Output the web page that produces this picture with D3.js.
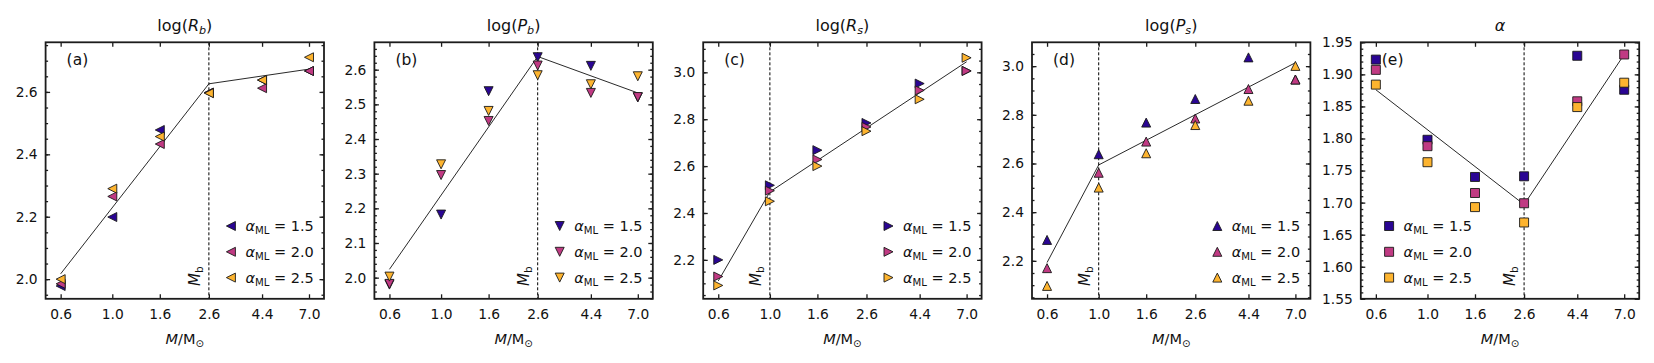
<!DOCTYPE html>
<html><head><meta charset="utf-8">
<script src="https://cdn.jsdelivr.net/npm/d3@7"></script>
<style>
body{margin:0;background:#fff}
text{font-family:"DejaVu Sans",sans-serif;fill:#111}
</style>
</head><body>
<svg id="chart" width="1654" height="363"></svg>
<script>
// ---------------- data ----------------
const masses = [0.6, 1.0, 1.6, 2.6, 4.4, 7.0];
const massTickLabels = ["0.6", "1.0", "1.6", "2.6", "4.4", "7.0"];
const alphaMLLabels = ["1.5", "2.0", "2.5"];
const seriesColors = ["#2a0593", "#c03a83", "#fdb42f"];

// (a) log(R_b)
const logRb_15 = [1.978, 2.199, 2.478, 2.598, 2.638, 2.667];
const logRb_20 = [1.985, 2.265, 2.433, 2.597, 2.612, 2.667];
const logRb_25 = [2.000, 2.290, 2.457, 2.596, 2.638, 2.711];
const logRb_fitX = [0.6, 2.6, 7.0];
const logRb_fitY = [2.017, 2.626, 2.673];
const logRb_ticks = [2.0, 2.2, 2.4, 2.6];

// (b) log(P_b)
const logPb_15 = [1.980, 2.182, 2.538, 2.636, 2.611, 2.520];
const logPb_20 = [1.982, 2.296, 2.452, 2.612, 2.533, 2.521];
const logPb_25 = [2.003, 2.327, 2.481, 2.584, 2.558, 2.581];
const logPb_fitX = [0.6, 2.6, 7.0];
const logPb_fitY = [2.024, 2.638, 2.533];
const logPb_ticks = [2.0, 2.1, 2.2, 2.3, 2.4, 2.5, 2.6];

// (c) log(R_s)
const logRs_15 = [2.200, 2.518, 2.668, 2.784, 2.952, 3.006];
const logRs_20 = [2.129, 2.495, 2.628, 2.767, 2.923, 3.006];
const logRs_25 = [2.091, 2.450, 2.600, 2.749, 2.885, 3.062];
const logRs_fitX = [0.6, 1.0, 7.0];
const logRs_fitY = [2.110, 2.490, 3.045];
const logRs_ticks = [2.2, 2.4, 2.6, 2.8, 3.0];

// (d) log(P_s)
const logPs_15 = [2.286, 2.638, 2.768, 2.865, 3.036, 2.945];
const logPs_20 = [2.170, 2.562, 2.690, 2.785, 2.906, 2.945];
const logPs_25 = [2.097, 2.501, 2.642, 2.758, 2.858, 3.001];
const logPs_fitX = [0.6, 1.0, 7.0];
const logPs_fitY = [2.193, 2.594, 3.014];
const logPs_ticks = [2.2, 2.4, 2.6, 2.8, 3.0];

// (e) alpha
const alpha_15 = [1.923, 1.798, 1.740, 1.741, 1.929, 1.876];
const alpha_20 = [1.907, 1.788, 1.715, 1.699, 1.858, 1.931];
const alpha_25 = [1.884, 1.763, 1.693, 1.669, 1.849, 1.887];
const alpha_fitX = [0.6, 2.6, 7.0];
const alpha_fitY = [1.876, 1.697, 1.931];
const alpha_ticks = [1.55, 1.60, 1.65, 1.70, 1.75, 1.80, 1.85, 1.90, 1.95];

const panelLabels = ["(a)", "(b)", "(c)", "(d)", "(e)"];
const breakMasses = [2.6, 2.6, 1.0, 1.0, 2.6];

// ---------------- panels config ----------------
const panels = [
  {title:[["log(",0],["R",1],["b",1,1],[")",0]], series:[logRb_15,logRb_20,logRb_25], fitX:logRb_fitX, fitY:logRb_fitY,
   ticks:logRb_ticks, ydom:[1.937,2.759], minor:0.05, fmt:".1f", marker:"left", legend:"right"},
  {title:[["log(",0],["P",1],["b",1,1],[")",0]], series:[logPb_15,logPb_20,logPb_25], fitX:logPb_fitX, fitY:logPb_fitY,
   ticks:logPb_ticks, ydom:[1.939,2.679], minor:0.02, fmt:".1f", marker:"down", legend:"right"},
  {title:[["log(",0],["R",1],["s",1,1],[")",0]], series:[logRs_15,logRs_20,logRs_25], fitX:logRs_fitX, fitY:logRs_fitY,
   ticks:logRs_ticks, ydom:[2.034,3.128], minor:0.05, fmt:".1f", marker:"right", legend:"right"},
  {title:[["log(",0],["P",1],["s",1,1],[")",0]], series:[logPs_15,logPs_20,logPs_25], fitX:logPs_fitX, fitY:logPs_fitY,
   ticks:logPs_ticks, ydom:[2.044,3.098], minor:0.05, fmt:".1f", marker:"up", legend:"right"},
  {title:[["α",1]], series:[alpha_15,alpha_20,alpha_25], fitX:alpha_fitX, fitY:alpha_fitY,
   ticks:alpha_ticks, ydom:[1.55,1.95], minor:0.01, fmt:".2f", marker:"square", legend:"left"}
];

// ---------------- layout ----------------
const svg = d3.select("#chart");
const left0 = 45.6, step = 328.8, pw = 278.4, plotTop = 42.3, plotBottom = 298.8;
const ms = 9; // marker size px
const spineColor = "#1c1c1c";

function markerPath(type) {
  const s = ms / 2;
  switch (type) {
    case "left":  return `M${-s},0L${s},${-s}L${s},${s}Z`;
    case "right": return `M${s},0L${-s},${-s}L${-s},${s}Z`;
    case "up":    return `M0,${-s}L${s},${s}L${-s},${s}Z`;
    case "down":  return `M0,${s}L${s},${-s}L${-s},${-s}Z`;
    default:      return `M${-s},${-s}H${s}V${s}H${-s}Z`;
  }
}

function mathParts(textSel, parts, size) {
  let shifted = false;
  parts.forEach(p => {
    const [t, ital, sub] = p;
    const ts = textSel.append("tspan").text(t)
      .style("font-style", ital ? "italic" : "normal")
      .style("font-size", (sub ? size * 0.7 : size) + "px");
    if (sub && !shifted) { ts.attr("dy", size * 0.22); shifted = true; }
    else if (!sub && shifted) { ts.attr("dy", -size * 0.22); shifted = false; }
  });
}

panels.forEach((p, pi) => {
  const L = left0 + pi * step, R = L + pw;
  const x = d3.scaleLog().domain([0.517, 8.12]).range([L, R]);
  const y = d3.scaleLinear().domain(p.ydom).range([plotBottom, plotTop]);
  const g = svg.append("g");

  const minorVals = [];
  const n0 = Math.ceil(p.ydom[0] / p.minor - 1e-6), n1 = Math.floor(p.ydom[1] / p.minor + 1e-6);
  for (let k = n0; k <= n1; k++) minorVals.push(+(k * p.minor).toFixed(4));

  // break line (dashed)
  const bx = x(breakMasses[pi]);
  g.append("line").attr("x1", bx).attr("x2", bx).attr("y1", plotTop).attr("y2", plotBottom)
    .attr("stroke", "#000").attr("stroke-width", 1).attr("stroke-dasharray", "3,2");

  // Mb label (rotated)
  const mb = g.append("text").attr("transform", `translate(${bx - 9},${286}) rotate(-90)`)
    .style("font-size", "15px");
  mathParts(mb, [["M",1],["b",0,1]], 15);

  // fit line
  const fitPts = p.fitX.map((xv, i) => [xv, p.fitY[i]]);
  g.append("path").attr("d", d3.line().x(d => x(d[0])).y(d => y(d[1]))(fitPts))
    .attr("fill", "none").attr("stroke", "#111").attr("stroke-width", 0.9);

  // markers
  p.series.forEach((vals, si) => {
    g.append("g").selectAll("path").data(vals).join("path")
      .attr("d", markerPath(p.marker))
      .attr("transform", (d, i) => `translate(${x(masses[i])},${y(d)})`)
      .attr("fill", seriesColors[si]).attr("stroke", "#1a1a1a").attr("stroke-width", 0.9);
  });

  // axes
  const tl = 4.5, tlm = 2.5;
  g.append("g").attr("transform", `translate(0,${plotBottom})`)
    .call(d3.axisBottom(x).tickValues(masses).tickFormat((d, i) => massTickLabels[i])
      .tickSizeInner(-tl).tickSizeOuter(0).tickPadding(10));
  g.append("g").attr("transform", `translate(0,${plotTop})`)
    .call(d3.axisTop(x).tickValues(masses).tickFormat("").tickSizeInner(-tl).tickSizeOuter(0));
  g.append("g").attr("transform", `translate(${L},0)`)
    .call(d3.axisLeft(y).tickValues(p.ticks).tickFormat(d3.format(p.fmt))
      .tickSizeInner(-tl).tickSizeOuter(0).tickPadding(8));
  g.append("g").attr("transform", `translate(${R},0)`)
    .call(d3.axisRight(y).tickValues(p.ticks).tickFormat("").tickSizeInner(-tl).tickSizeOuter(0));
  g.append("g").attr("transform", `translate(${L},0)`)
    .call(d3.axisLeft(y).tickValues(minorVals).tickFormat("").tickSizeInner(-tlm).tickSizeOuter(0));
  g.append("g").attr("transform", `translate(${R},0)`)
    .call(d3.axisRight(y).tickValues(minorVals).tickFormat("").tickSizeInner(-tlm).tickSizeOuter(0));
  g.selectAll(".domain").remove();
  g.selectAll(".tick line").attr("stroke", spineColor).attr("stroke-width", 1.3);
  g.selectAll(".tick text").style("font-family", '"DejaVu Sans",sans-serif').style("font-size", "13.8px").attr("fill", "#111");

  // frame
  g.append("rect").attr("x", L).attr("y", plotTop).attr("width", pw).attr("height", plotBottom - plotTop)
    .attr("fill", "none").attr("stroke", spineColor).attr("stroke-width", 1.8);

  // title
  const tt = g.append("text").attr("x", (L + R) / 2).attr("y", 30.5).attr("text-anchor", "middle").style("font-size", "16px");
  mathParts(tt, p.title, 16);

  // x label
  const xl = g.append("text").attr("x", (L + R) / 2).attr("y", 343.5).attr("text-anchor", "middle").style("font-size", "14.5px");
  mathParts(xl, [["M",1],["/M",0],["⊙",0,1]], 14.5);

  // panel label
  g.append("text").attr("x", L + 21).attr("y", 64.5).style("font-size", "15.5px").text(panelLabels[pi]);

  // legend
  const lmx = p.legend === "right" ? L + 185.3 : L + 28.3;
  alphaMLLabels.forEach((lab, li) => {
    const ly = 226 + li * 25.8;
    g.append("path").attr("d", markerPath(p.marker)).attr("transform", `translate(${lmx},${ly})`)
      .attr("fill", seriesColors[li]).attr("stroke", "#1a1a1a").attr("stroke-width", 0.9);
    const lt = g.append("text").attr("x", lmx + 14.5).attr("y", ly + 5).style("font-size", "14.5px");
    mathParts(lt, [["α",1],["ML",0,1],[" = " + lab,0]], 14.5);
  });
});
</script>
</body></html>
